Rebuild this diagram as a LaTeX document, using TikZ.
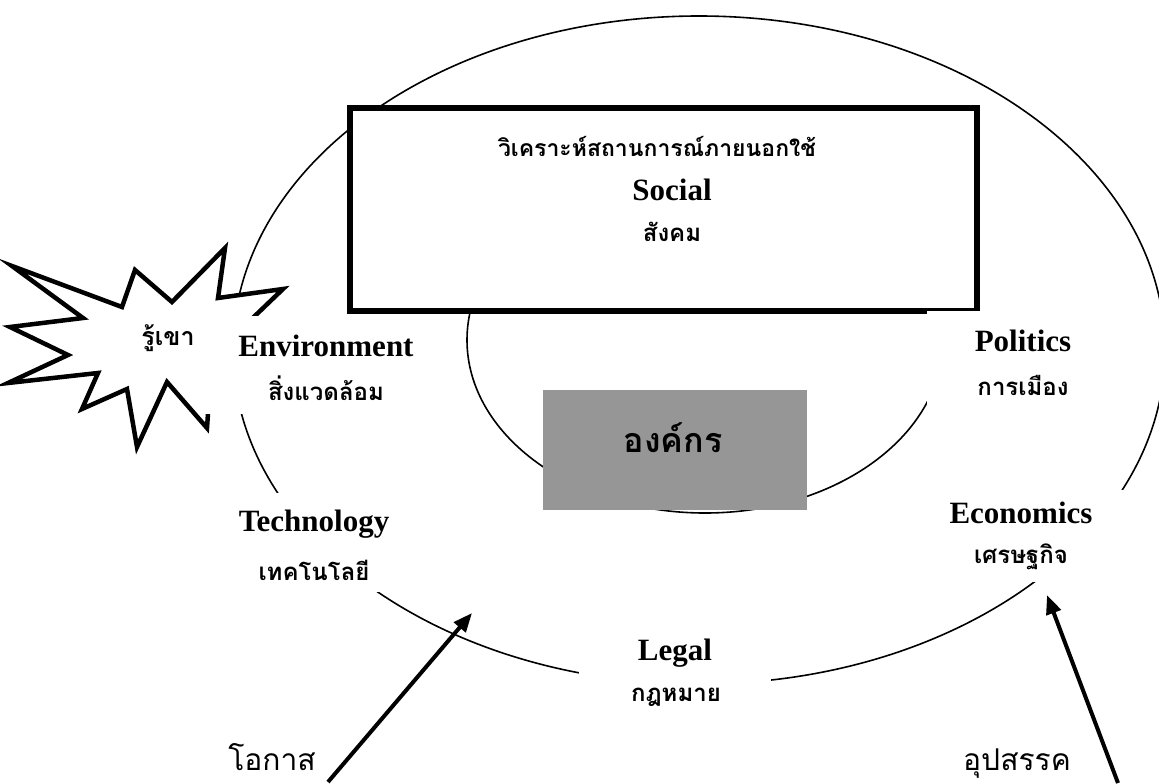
\documentclass[tikz,border=0pt]{standalone}
\usepackage{fontspec}
\setmainfont{Liberation Serif}
\newfontfamily\thaifont[Script=Thai]{Loma}
\usetikzlibrary{shapes.geometric,arrows.meta}
\definecolor{orggray}{HTML}{969696}
\begin{document}
\begin{tikzpicture}[x=1pt,y=-1pt,
  thinline/.style={line width=1.6pt},
  whitemask/.style={fill=white, draw=none, inner sep=0pt, rectangle},
  eng/.style={font=\bfseries\fontsize{31}{31}\selectfont, inner sep=0pt},
  thaisub/.style={font=\thaifont\bfseries\fontsize{24}{24}\selectfont, inner sep=0pt},
  thaititle/.style={font=\thaifont\bfseries\fontsize{23}{23}\selectfont, inner sep=0pt},
  thaiarrow/.style={font=\thaifont\fontsize{30}{30}\selectfont, inner sep=0pt},
  arrowline/.style={line width=4pt, -{Triangle[length=19pt,width=15pt]}},
  burst/.style={line width=4.5pt, line join=miter, fill=white}
]
\useasboundingbox (0,0) rectangle (1159,784);
\clip (0,0) rectangle (1159,784);

% outer ellipse
\node[draw, thinline, ellipse, minimum width=932pt, minimum height=668pt, inner sep=0pt] (outer) at (699,350) {};

% starburst
\draw[burst] (12,266) -- (122,307) -- (135,270) -- (172,302) -- (225,248) -- (218,298)
  -- (283,289) -- (235,335) -- (300,360) -- (210,385) -- (207,428)
  -- (167,382) -- (137,447) -- (127,389) -- (82,409) -- (98,373)
  -- (8,383) -- (68,355) -- (10,327) -- (83,318) -- cycle;
\node[font=\thaifont\bfseries\fontsize{25}{25}\selectfont, inner sep=0pt] (rukhao) at (168,338) {รู้เขา};

% inner ellipse
\node[draw, thinline, ellipse, minimum width=476pt, minimum height=346pt, inner sep=0pt] (inner) at (705,340) {};

% social box
\node[draw, line width=6pt, fill=white, rectangle, minimum width=627pt, minimum height=203pt, inner sep=0pt] (socialbox) at (663.5,209.5) {};
\node[thaititle] (title) at (657,146) {วิเคราะห์สถานการณ์ภายนอกใช้};
\node[eng] (social) at (672,190) {Social};
\node[thaisub] (socialth) at (672,232) {สังคม};

% organisation box
\node[fill=orggray, rectangle, minimum width=264pt, minimum height=120pt, inner sep=0pt] (orgbox) at (675,450) {};
\node[font=\thaifont\bfseries\fontsize{34}{34}\selectfont, inner sep=0pt] (org) at (673,438) {องค์กร};

% label masks
\node[whitemask, minimum width=220pt, minimum height=98pt] (envmask) at (315,365) {};
\node[whitemask, minimum width=168pt, minimum height=99pt] (techmask) at (314,542.5) {};
\node[whitemask, minimum width=193pt, minimum height=94pt] (polmask) at (1023.5,358) {};
\node[whitemask, minimum width=200pt, minimum height=92pt] (ecomask) at (1025,536) {};
\node[whitemask, minimum width=192pt, minimum height=90pt] (legalmask) at (675,690) {};

% labels
\node[eng] (env) at (326,346) {Environment};
\node[thaisub] (envth) at (326,388) {สิ่งแวดล้อม};
\node[eng] (tech) at (314,524) {Technology};
\node[thaisub] (techth) at (314,570) {เทคโนโลยี};
\node[eng] (pol) at (1023,341) {Politics};
\node[thaisub] (polth) at (1023,385) {การเมือง};
\node[eng] (eco) at (1021,513) {Economics};
\node[thaisub] (ecoth) at (1021,557) {เศรษฐกิจ};
\node[eng] (legal) at (675,653) {Legal};
\node[thaisub] (legalth) at (676,697) {กฎหมาย};

% opportunity / threat
\node[thaiarrow] (opp) at (272,757) {โอกาส};
\node[thaiarrow] (threat) at (1017,764) {อุปสรรค};
\coordinate (oppfrom) at (328,782);
\coordinate (oppto) at (472,613);
\coordinate (thrfrom) at (1118,783);
\coordinate (thrto) at (1047,595);
\draw[arrowline] (oppfrom) -- (oppto);
\draw[arrowline] (thrfrom) -- (thrto);
\end{tikzpicture}
\end{document}
